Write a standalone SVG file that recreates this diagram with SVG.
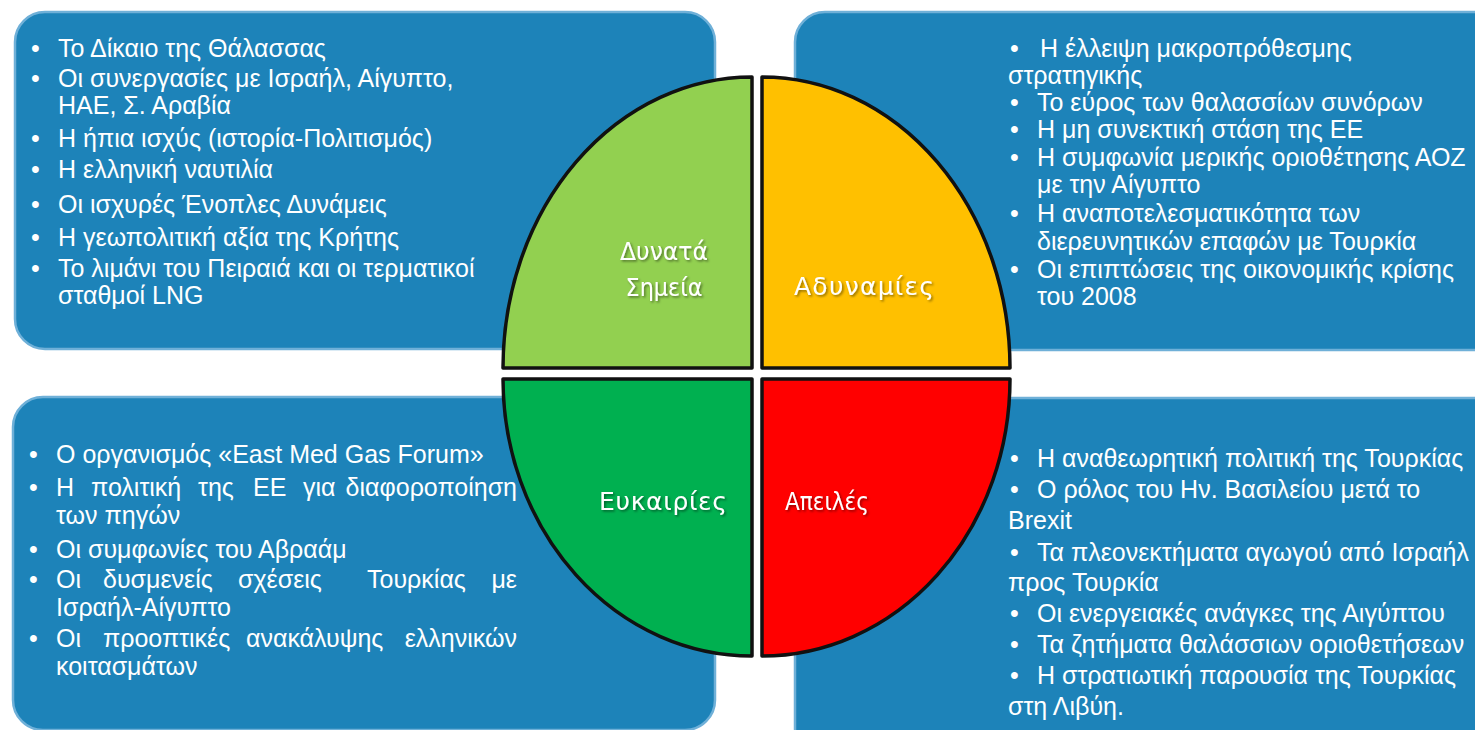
<svg xmlns="http://www.w3.org/2000/svg" width="1475" height="730" viewBox="0 0 1475 730">
<defs>
<style>
.box{fill:#1d83b9;stroke:#6fb0d8;stroke-width:2.5}
.t{font-family:"Liberation Sans",Arial,sans-serif;font-size:25px;fill:#ffffff}
.e{text-anchor:end}
.q{stroke:#111111;stroke-width:3.5;stroke-linejoin:round}
.lbl{font-family:"DejaVu Sans",Verdana,sans-serif;font-size:25px;fill:#ffffff;text-anchor:middle}
</style>
<filter id="sh" x="-10%" y="-20%" width="130%" height="150%">
<feDropShadow dx="1.5" dy="1.5" stdDeviation="1" flood-color="#000" flood-opacity="0.45"/>
</filter>
</defs>
<rect width="1475" height="730" fill="#ffffff"/>

<g id="box-strengths">
<rect class="box" x="15" y="12" width="700" height="337" rx="30"/>
<text class="t" x="31" y="57">•</text><text class="t" x="58" y="57">Το Δίκαιο της Θάλασσας</text>
<text class="t" x="31" y="87">•</text><text class="t" x="58" y="87">Οι συνεργασίες με Ισραήλ, Αίγυπτο,</text>
<text class="t" x="58" y="114">ΗΑΕ, Σ. Αραβία</text>
<text class="t" x="31" y="147">•</text><text class="t" x="58" y="147">Η ήπια ισχύς (ιστορία-Πολιτισμός)</text>
<text class="t" x="31" y="178">•</text><text class="t" x="58" y="178">Η ελληνική ναυτιλία</text>
<text class="t" x="31" y="213">•</text><text class="t" x="58" y="213">Οι ισχυρές Ένοπλες Δυνάμεις</text>
<text class="t" x="31" y="246">•</text><text class="t" x="58" y="246">Η γεωπολιτική αξία της Κρήτης</text>
<text class="t" x="31" y="277">•</text><text class="t" x="58" y="277">Το λιμάνι του Πειραιά και οι τερματικοί</text>
<text class="t" x="58" y="304">σταθμοί LNG</text>
</g>

<g id="box-weaknesses">
<rect class="box" x="795" y="12" width="720" height="338" rx="30"/>
<text class="t" x="1010" y="57">•</text><text class="t" x="1040" y="57">Η έλλειψη μακροπρόθεσμης</text>
<text class="t" x="1008" y="84">στρατηγικής</text>
<text class="t" x="1010" y="111">•</text><text class="t" x="1037" y="111">Το εύρος των θαλασσίων συνόρων</text>
<text class="t" x="1010" y="138">•</text><text class="t" x="1037" y="138">Η μη συνεκτική στάση της ΕΕ</text>
<text class="t" x="1010" y="166">•</text><text class="t" x="1037" y="166">Η συμφωνία μερικής οριοθέτησης ΑΟΖ</text>
<text class="t" x="1037" y="193">με την Αίγυπτο</text>
<text class="t" x="1010" y="222">•</text><text class="t" x="1037" y="222">Η αναποτελεσματικότητα των</text>
<text class="t" x="1037" y="250">διερευνητικών επαφών με Τουρκία</text>
<text class="t" x="1010" y="278">•</text><text class="t" x="1037" y="278">Οι επιπτώσεις της οικονομικής κρίσης</text>
<text class="t" x="1037" y="305">του 2008</text>
</g>

<g id="box-opportunities">
<rect class="box" x="13" y="397" width="702" height="333" rx="30"/>
<text class="t" x="29" y="463">•</text><text class="t" x="56" y="463">Ο οργανισμός «East Med Gas Forum»</text>
<text class="t" x="29" y="496">•</text>
<text class="t" x="56" y="496">Η</text>
<text class="t" x="91" y="496">πολιτική</text>
<text class="t" x="198" y="496">της</text>
<text class="t" x="253" y="496">ΕΕ</text>
<text class="t" x="303" y="496">για</text>
<text class="t e" x="517" y="496">διαφοροποίηση</text>
<text class="t" x="56" y="524">των πηγών</text>
<text class="t" x="29" y="558">•</text><text class="t" x="56" y="558">Οι συμφωνίες του Αβραάμ</text>
<text class="t" x="29" y="588">•</text>
<text class="t" x="56" y="588">Οι</text>
<text class="t" x="103" y="588">δυσμενείς</text>
<text class="t" x="238" y="588">σχέσεις</text>
<text class="t" x="367" y="588">Τουρκίας</text>
<text class="t e" x="517" y="588">με</text>
<text class="t" x="56" y="616">Ισραήλ-Αίγυπτο</text>
<text class="t" x="29" y="647">•</text>
<text class="t" x="56" y="647">Οι</text>
<text class="t" x="103" y="647">προοπτικές</text>
<text class="t" x="246" y="647">ανακάλυψης</text>
<text class="t e" x="517" y="647">ελληνικών</text>
<text class="t" x="56" y="675">κοιτασμάτων</text>
</g>

<g id="box-threats">
<rect class="box" x="795" y="398" width="720" height="360" rx="30"/>
<text class="t" x="1010" y="467">•</text><text class="t" x="1037" y="467">Η αναθεωρητική πολιτική της Τουρκίας</text>
<text class="t" x="1010" y="498">•</text><text class="t" x="1037" y="498">Ο ρόλος του Ην. Βασιλείου μετά το</text>
<text class="t" x="1008" y="529">Brexit</text>
<text class="t" x="1010" y="561">•</text><text class="t" x="1037" y="561">Τα πλεονεκτήματα αγωγού από Ισραήλ</text>
<text class="t" x="1008" y="591">προς Τουρκία</text>
<text class="t" x="1010" y="622">•</text><text class="t" x="1037" y="622">Οι ενεργειακές ανάγκες της Αιγύπτου</text>
<text class="t" x="1010" y="653">•</text><text class="t" x="1037" y="653">Τα ζητήματα θαλάσσιων οριοθετήσεων</text>
<text class="t" x="1010" y="684">•</text><text class="t" x="1037" y="684">Η στρατιωτική παρουσία της Τουρκίας</text>
<text class="t" x="1008" y="715">στη Λιβύη.</text>
</g>

<g id="q-strengths">
<path class="q" fill="#92d050" d="M752,368 L503,368 A249,291 0 0 1 752,77 Z"/>
<text class="lbl" x="664" y="260" textLength="88" lengthAdjust="spacingAndGlyphs" filter="url(#sh)">Δυνατά</text>
<text class="lbl" x="664" y="296" textLength="77" lengthAdjust="spacingAndGlyphs" filter="url(#sh)">Σημεία</text>
</g>
<g id="q-weaknesses">
<path class="q" fill="#ffc000" d="M762,368 L762,77 A248,291 0 0 1 1010,368 Z"/>
<text class="lbl" x="864" y="295" textLength="140" lengthAdjust="spacing" filter="url(#sh)">Αδυναμίες</text>
</g>
<g id="q-opportunities">
<path class="q" fill="#00b050" d="M752,379 L503,379 A249,277 0 0 0 752,656 Z"/>
<text class="lbl" x="663" y="510" textLength="128" lengthAdjust="spacing" filter="url(#sh)">Ευκαιρίες</text>
</g>
<g id="q-threats">
<path class="q" fill="#ff0000" d="M762,379 L1010,379 A248,277 0 0 1 762,656 Z"/>
<text class="lbl" x="827" y="510" textLength="84" lengthAdjust="spacingAndGlyphs" filter="url(#sh)">Απειλές</text>
</g>
<g id="connectors"/>
</svg>
